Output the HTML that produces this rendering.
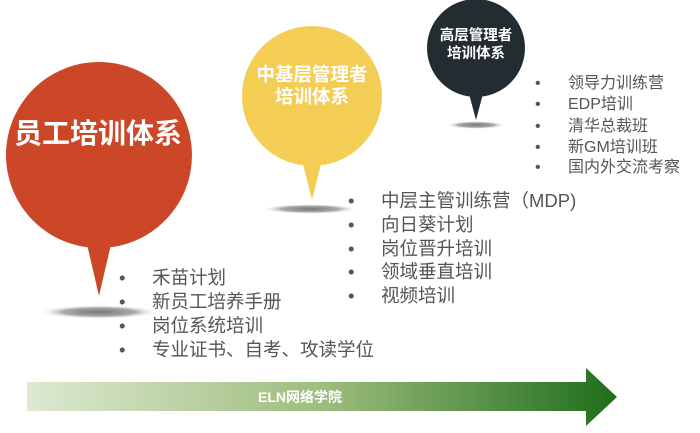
<!DOCTYPE html>
<html><head><meta charset="utf-8"><style>
body{margin:0;width:700px;height:428px;background:#fff;overflow:hidden;font-family:"Liberation Sans","Noto Sans CJK SC",sans-serif}
</style></head><body>
<svg width="700" height="428" xmlns="http://www.w3.org/2000/svg" style="font-family:'Liberation Sans','Noto Sans CJK SC',sans-serif">
<defs>
<radialGradient id="sh" cx="0.5" cy="0.5" r="0.5"><stop offset="0" stop-color="#777"/><stop offset="0.6" stop-color="#aaa"/><stop offset="1" stop-color="#fff" stop-opacity="0"/></radialGradient>
<linearGradient id="ag" x1="0" x2="1" y1="0" y2="0"><stop offset="0" stop-color="#dde9d2"/><stop offset="0.5" stop-color="#9ebd7d"/><stop offset="1" stop-color="#1e6e1a"/></linearGradient>
</defs>
<ellipse cx="99" cy="312" rx="60" ry="7" fill="url(#sh)"/>
<ellipse cx="310" cy="209" rx="48" ry="5" fill="url(#sh)"/>
<ellipse cx="476" cy="125" rx="30" ry="4" fill="url(#sh)"/>
<circle cx="99" cy="155" r="93" fill="#cc4628"/>
<polygon points="86,240 112,240 99,296" fill="#cc4628"/>
<circle cx="312" cy="96" r="70" fill="#f4cd55"/>
<polygon points="302,160 322,160 312,200" fill="#f4cd55"/>
<circle cx="476" cy="48" r="49" fill="#222c31"/>
<polygon points="468,90 484,90 476,120" fill="#222c31"/>
<text x="98" y="143" fill="#fff" font-size="28" font-weight="bold" text-anchor="middle">员工培训体系</text>
<text x="312" y="81" fill="#fff" font-size="18.5" font-weight="bold" text-anchor="middle">中基层管理者</text>
<text x="312" y="103" fill="#fff" font-size="18.5" font-weight="bold" text-anchor="middle">培训体系</text>
<text x="476" y="40" fill="#fff" font-size="14.5" font-weight="bold" text-anchor="middle">高层管理者</text>
<text x="476" y="58" fill="#fff" font-size="14.5" font-weight="bold" text-anchor="middle">培训体系</text>
<g fill="#555" font-size="18.5">
<text x="119" y="284">•</text><text x="152" y="284">禾苗计划</text>
<text x="119" y="308">•</text><text x="152" y="308">新员工培养手册</text>
<text x="119" y="332">•</text><text x="152" y="332">岗位系统培训</text>
<text x="119" y="356">•</text><text x="152" y="356">专业证书、自考、攻读学位</text>
<text x="348" y="207">•</text><text x="381" y="207">中层主管训练营（MDP)</text>
<text x="348" y="231">•</text><text x="381" y="231">向日葵计划</text>
<text x="348" y="255">•</text><text x="381" y="255">岗位晋升培训</text>
<text x="348" y="278">•</text><text x="381" y="278">领域垂直培训</text>
<text x="348" y="302">•</text><text x="381" y="302">视频培训</text>
</g>
<g fill="#555" font-size="16">
<text x="535" y="88">•</text><text x="568" y="88">领导力训练营</text>
<text x="535" y="109">•</text><text x="568" y="109">EDP培训</text>
<text x="535" y="131">•</text><text x="568" y="131">清华总裁班</text>
<text x="535" y="152">•</text><text x="568" y="152">新GM培训班</text>
<text x="535" y="172">•</text><text x="568" y="172">国内外交流考察</text>
</g>
<polygon points="27,382 586,382 586,368 617,397 586,426 586,411 27,411" fill="url(#ag)"/>
<text x="300" y="402" fill="#fff" font-size="14" font-weight="bold" text-anchor="middle">ELN网络学院</text>
</svg>
</body></html>
